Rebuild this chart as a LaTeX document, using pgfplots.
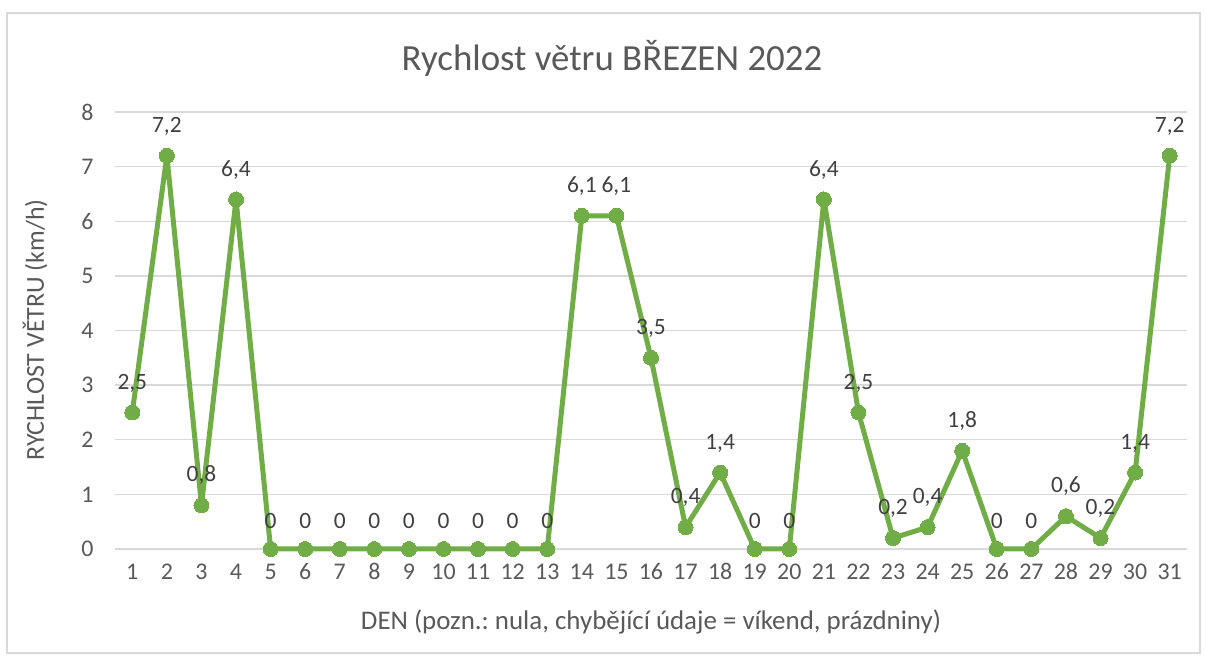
\documentclass[border=0pt]{standalone}
\usepackage{pgfplots}
\pgfplotsset{compat=1.18}
\usepackage{fontspec}
\setmainfont{Carlito}
\frenchspacing
\definecolor{linegreen}{HTML}{70AD47}
\definecolor{txt}{HTML}{595959}
\definecolor{lbl}{HTML}{404040}
\definecolor{gridc}{HTML}{D9D9D9}
\begin{document}
\begin{tikzpicture}[x=1bp,y=1bp]
\useasboundingbox (-115,-111) rectangle (1091,549);
\draw[gridc, line width=1.2bp] (-108,-104) rectangle (1085,536);
\begin{axis}[
  scale only axis,
  width=1072bp, height=437bp,
  at={(0,0)}, anchor=south west,
  xmin=0.5, xmax=31.5, ymin=0, ymax=8,
  xtick={1,...,31}, ytick={0,...,8},
  axis line style={draw=none},
  major tick length=0pt,
  ymajorgrids, grid style={gridc, line width=1.3bp},
  tick label style={font=\fontsize{24}{26}\selectfont, text=txt},
  /pgf/number format/assume math mode=true,
  yticklabel style={xshift=-18bp},
  xticklabel style={yshift=-15bp, text height=12bp, text depth=0pt},
  clip=false,
  nodes near coords,
  nodes near coords style={font=\fontsize{23.5}{26}\selectfont, text=lbl, /pgf/number format/use comma, /pgf/number format/fixed, /pgf/number format/precision=1, /pgf/number format/assume math mode=true},
  every node near coord/.append style={yshift=17bp},
]
\addplot[color=linegreen, line width=5bp, line join=round, mark=*, mark size=7.5bp, mark options={fill=linegreen, draw=linegreen, line width=0pt}] coordinates {
(1,2.5)(2,7.2)(3,0.8)(4,6.4)(5,0)(6,0)(7,0)(8,0)(9,0)(10,0)(11,0)(12,0)(13,0)
(14,6.1)(15,6.1)(16,3.5)(17,0.4)(18,1.4)(19,0)(20,0)(21,6.4)(22,2.5)(23,0.2)
(24,0.4)(25,1.8)(26,0)(27,0)(28,0.6)(29,0.2)(30,1.4)(31,7.2)};
\end{axis}
\node[font=\fontsize{37}{40}\selectfont, text=txt] at (497,491) {Rychlost větru BŘEZEN 2022};
\node[font=\fontsize{26}{29}\selectfont, text=txt, rotate=90] at (-80,219) {RYCHLOST VĚTRU (km/h)};
\node[font=\fontsize{27}{30}\selectfont, text=txt] at (536,-73) {DEN (pozn.: nula, chybějící údaje = víkend, prázdniny)};
\end{tikzpicture}
\end{document}
